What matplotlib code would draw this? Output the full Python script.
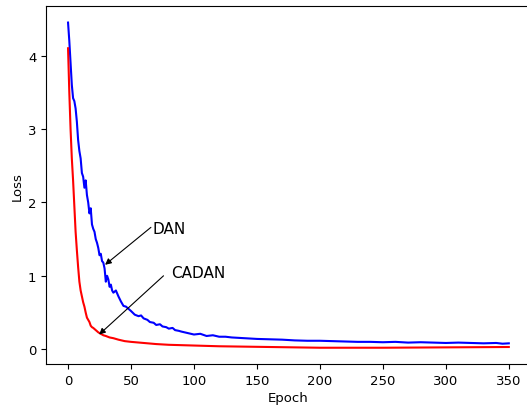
import matplotlib
matplotlib.use('Agg')
import matplotlib.pyplot as plt

# DAN loss (blue)
dan_epoch = [0, 1, 2, 3, 4, 5, 6, 7, 8, 9, 10, 11, 12, 13, 14, 15, 16, 17, 18, 19,
             20, 21, 22, 23, 24, 25, 26, 27, 28, 29, 30, 31, 32, 33, 34, 35, 36, 38, 40, 42,
             44, 46, 48, 50, 53, 56, 58, 60, 63, 65, 68, 70, 73, 75, 78, 80, 83, 85, 88, 90,
             95, 100, 105, 110, 115, 120, 125, 130, 135, 140, 150, 160, 170, 180, 190, 200, 210, 220, 230, 240,
             250, 260, 270, 280, 290, 300, 310, 320, 330, 340, 345, 350]
dan_loss = [4.45, 4.2, 3.9, 3.6, 3.42, 3.38, 3.28, 3.1, 2.85, 2.7, 2.6, 2.4, 2.35, 2.2, 2.3, 2.1, 2.0, 1.85, 1.92, 1.7,
            1.64, 1.6, 1.5, 1.45, 1.38, 1.28, 1.3, 1.2, 1.18, 1.1, 0.92, 1.0, 0.95, 0.85, 0.88, 0.8, 0.77, 0.8, 0.72, 0.65,
            0.59, 0.58, 0.55, 0.52, 0.47, 0.45, 0.46, 0.42, 0.40, 0.37, 0.36, 0.33, 0.34, 0.31, 0.30, 0.28, 0.29, 0.26, 0.25, 0.24,
            0.22, 0.20, 0.21, 0.18, 0.19, 0.17, 0.17, 0.16, 0.155, 0.15, 0.14, 0.135, 0.13, 0.12, 0.115, 0.115, 0.11, 0.105, 0.10, 0.10,
            0.095, 0.10, 0.09, 0.095, 0.09, 0.085, 0.09, 0.085, 0.08, 0.085, 0.075, 0.08]

# CADAN loss (red)
cadan_epoch = [0, 1, 2, 3, 4, 5, 6, 7, 8, 9, 10, 11, 12, 13, 14, 15, 16, 17, 18, 19,
               20, 22, 24, 26, 28, 30, 33, 36, 40, 45, 50, 60, 70, 80, 90, 100, 120, 140, 160, 180,
               200, 250, 300, 350]
cadan_loss = [4.1, 3.5, 3.0, 2.6, 2.3, 1.95, 1.6, 1.35, 1.12, 0.92, 0.8, 0.72, 0.64, 0.58, 0.5, 0.43, 0.4, 0.37, 0.32, 0.3,
              0.29, 0.26, 0.23, 0.21, 0.19, 0.18, 0.16, 0.15, 0.13, 0.11, 0.10, 0.085, 0.07, 0.06, 0.055, 0.05, 0.04, 0.035, 0.03, 0.025,
              0.02, 0.02, 0.025, 0.03]

fig = plt.figure(figsize=(5.27, 4.06), dpi=100)
ax = fig.add_axes([0.0873, 0.101, 0.92, 0.881])

ax.plot(dan_epoch, dan_loss, color='blue', lw=1.5)
ax.plot(cadan_epoch, cadan_loss, color='red', lw=1.5)

arrow = dict(arrowstyle='-|>', color='black', lw=0.8, shrinkA=0, shrinkB=0, mutation_scale=9)
ax.annotate('', xy=(29.4, 1.15), xytext=(65.8, 1.66), arrowprops=arrow)
ax.annotate('', xy=(24.7, 0.2), xytext=(75.8, 1.0), arrowprops=arrow)
ax.text(67.4, 1.65, 'DAN', fontsize=11, ha='left', va='center')
ax.text(82, 1.04, 'CADAN', fontsize=11, ha='left', va='center')

ax.set_xlabel('Epoch', fontsize=9.5, labelpad=3)
ax.set_ylabel('Loss', fontsize=9.5, labelpad=3)
ax.tick_params(labelsize=9.5)

plt.savefig('out.png', dpi=100)
